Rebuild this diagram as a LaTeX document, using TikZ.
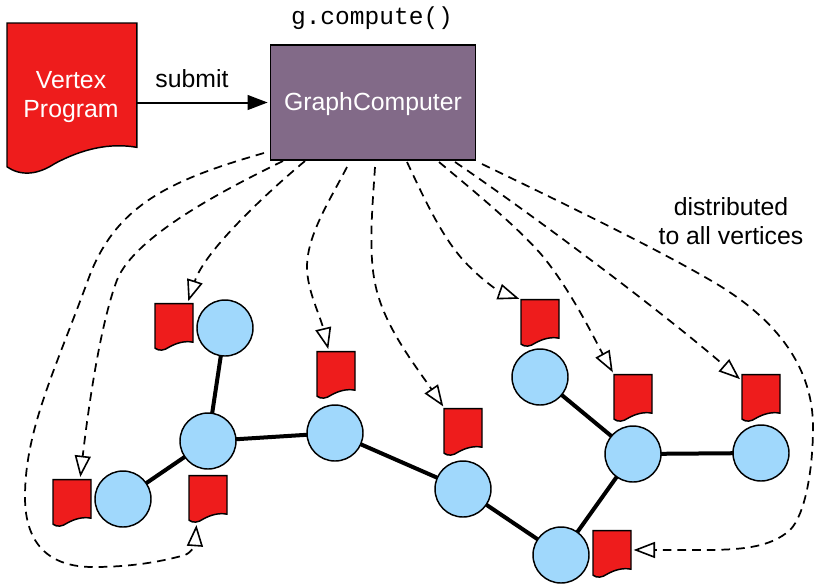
\documentclass[tikz,border=0pt]{standalone}
\usepackage{fontspec}
\setmainfont{Liberation Sans}
\setmonofont{Liberation Mono}
\usetikzlibrary{arrows.meta}
\definecolor{docred}{HTML}{EE1C1C}
\definecolor{gcpurple}{HTML}{826A88}
\definecolor{vertexblue}{HTML}{A0D8FC}
\tikzset{
	vertex/.style={circle, draw, fill=vertexblue, line width=1.1pt, minimum size=42pt, inner sep=0pt, outer sep=0pt},
	smalldoc/.style={inner sep=0pt, outer sep=0pt, minimum width=28.5pt, minimum height=35pt},
	bigdoc/.style={inner sep=0pt, outer sep=0pt, minimum width=97.5pt, minimum height=114pt},
	docline/.style={draw, fill=docred, line width=1.1pt, line join=miter},
	gcbox/.style={draw, fill=gcpurple, line width=1.1pt, minimum width=154pt, minimum height=86pt, inner sep=0pt, outer sep=0pt, text height=12pt, text depth=0pt},
	label/.style={font=\fontsize{18.6}{21.6}\selectfont},
	edge/.style={line width=3pt},
	dist/.style={line width=1.3pt, dash pattern=on 6.5pt off 4.5pt, shorten >=2pt, -{Triangle[open, fill=white, length=16pt, width=12pt, line width=1.2pt]}}
}
% document outline, unit coordinates of the small one
\newcommand{\docshape}[3]{
	\begin{scope}[shift={(#1.north west)}, xscale=#2, yscale=#3]
		\draw[docline] (0,0) -- (38,0) -- (38,38.5) .. controls (30,37) and (22,39) .. (14,43.5) .. controls (9,47) and (4,47.5) .. (0,44.5) -- cycle;
	\end{scope}
}
\begin{document}
\begin{tikzpicture}[x=0.75pt, y=-0.75pt]
	\useasboundingbox (0,0) rectangle (817,587);

	%--- Program and computer ---
	\node[bigdoc] (prog) at (72,99) {};
	\docshape{prog}{3.42}{3.23}
	\node[label, white, align=center] (progtext) at (71,97) {Vertex\\Program};
	\node[gcbox, label, text=white] (gc) at (373,102.5) {GraphComputer};
	\node[label, font=\ttfamily\fontsize{18.4}{21}\selectfont] (call) at (372,18) {g.compute()};
	\draw[line width=1.5pt, shorten >=2pt, -{Triangle[length=15pt, width=11pt]}] (prog.east |- gc.west) -- (gc.west);
	\node[label] (sub) at (192,79) {submit};
	\node[label, align=center] (note) at (731,221) {distributed\\to all vertices};

	%--- Vertices ---
	\node[vertex] (v1) at (225,328) {};
	\node[vertex] (v2) at (208,441) {};
	\node[vertex] (v3) at (123,499) {};
	\node[vertex] (v4) at (335,433) {};
	\node[vertex] (v5) at (463,489) {};
	\node[vertex] (v6) at (561,555) {};
	\node[vertex] (v7) at (633,454) {};
	\node[vertex] (v8) at (540,377) {};
	\node[vertex] (v9) at (761,453) {};
	\foreach \a/\b in {v1/v2, v2/v3, v2/v4, v4/v5, v5/v6, v6/v7, v7/v8, v7/v9}
		\draw[edge] (\a) -- (\b);

	%--- Program copies ---
	\foreach \name/\x/\y in {d1/174/327, d2/208/499, d3/72/503, d4/336/375, d5/463/432, d6/612/554, d7/633/398, d8/540/323, d9/761/398} {
		\node[smalldoc] (\name) at (\x,\y) {};
		\docshape{\name}{1}{1}
	}

	%--- Distribution ---
	\coordinate (g1) at (264,153);
	\coordinate (g2) at (283,161);
	\coordinate (g3) at (305,161);
	\coordinate (g4) at (347,167);
	\coordinate (g5) at (375,167);
	\coordinate (g6) at (407,162);
	\coordinate (g7) at (439,162);
	\coordinate (g8) at (455,162);
	\coordinate (g9) at (482,164);
	\draw[dist] (g1) .. controls (170,180) and (115,205) .. (88,280) .. controls (55,370) and (25,430) .. (25,497) .. controls (25,545) and (50,567) .. (93,567) .. controls (130,567) and (160,562) .. (185,555) .. controls (192,552) and (195,545) .. (d2.244);
	\draw[dist] (g2) .. controls (230,187) and (135,235) .. (117,280) .. controls (100,325) and (88,410) .. (d3.71);
	\draw[dist] (g3) .. controls (270,190) and (205,250) .. (d1.60);
	\draw[dist] (g4) .. controls (330,200) and (307,235) .. (307,267) .. controls (307,290) and (320,315) .. (d4.107);
	\draw[dist] (g5) .. controls (373,200) and (368,250) .. (375,283) .. controls (383,325) and (415,365) .. (d5.128);
	\draw[dist] (g6) .. controls (425,200) and (445,245) .. (473,270) .. controls (485,282) and (500,292) .. (d8.128);
	\draw[dist] (g7) .. controls (475,192) and (515,225) .. (540,253) .. controls (570,288) and (595,340) .. (d7.129);
	\draw[dist] (g8) .. controls (530,213) and (660,310) .. (d9.138);
	\draw[dist] (g9) .. controls (540,192) and (650,245) .. (710,280) .. controls (780,320) and (813,370) .. (813,427) .. controls (813,470) and (805,515) .. (790,530) .. controls (770,548) and (740,550) .. (700,550) -- (d6.12);
\end{tikzpicture}
\end{document}
